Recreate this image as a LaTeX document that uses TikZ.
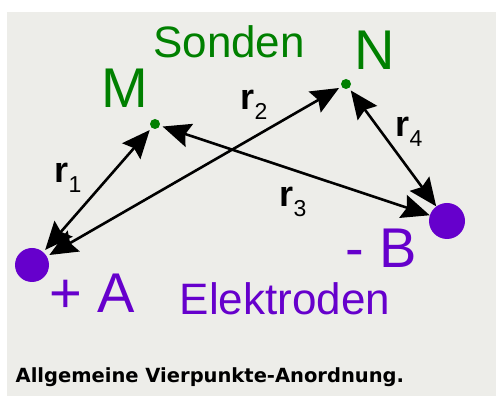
\documentclass[tikz,border=0pt]{standalone}
\usepackage{fontspec}
\setmainfont{Liberation Sans}
\newfontfamily\capfont{DejaVu Sans}
\usetikzlibrary{arrows.meta}
\definecolor{bggray}{RGB}{237,237,233}
\definecolor{elpurple}{RGB}{102,0,204}
\definecolor{sondgreen}{RGB}{0,128,0}
\tikzset{
  electrode/.style={circle, fill=elpurple, draw=none, inner sep=0pt},
  probe/.style={circle, fill=sondgreen, draw=none, inner sep=0pt, minimum size=10pt, outer sep=3pt},
  arr/.style={line width=2.6pt, {Stealth[length=28pt,width=24pt,inset=4pt]}-{Stealth[length=28pt,width=24pt,inset=4pt]}},
  big/.style={inner sep=0pt, anchor=base west, font=\fontsize{56}{56}\selectfont},
  mid/.style={inner sep=0pt, anchor=base west, font=\fontsize{44}{44}\selectfont},
  rlab/.style={inner sep=0pt, anchor=base west},
}
\newcommand{\rsub}[1]{{\fontsize{36}{36}\selectfont\bfseries r}\raisebox{-10pt}{\fontsize{23}{23}\selectfont #1}}
\begin{document}
\begin{tikzpicture}[x=1pt,y=1pt]
\useasboundingbox (0,0) rectangle (496,396);
\fill[bggray] (7,0) rectangle (496,384);
% electrodes and probes
\node[electrode, minimum size=34pt, outer sep=3pt] (A) at (32,131) {};
\node[electrode, minimum size=36pt] (B) at (447,175) {};
\node[probe] (M) at (155,272) {};
\node[probe] (N) at (346,312) {};
% connectors
\draw[arr] (A) -- (M);
\draw[arr] (A) -- (N);
\draw[arr] (M) -- (B);
\draw[arr] (N) -- (B);
% labels
\node[mid, text=sondgreen] (sonden) at (153,338) {Sonden};
\node[big, text=sondgreen] (mlab) at (101,288) {M};
\node[big, text=sondgreen] (nlab) at (354,326) {N};
\node[big, text=elpurple] (alab) at (49,83) {+ A};
\node[big, text=elpurple] (blab) at (345.5,128) {- B};
\node[mid, text=elpurple] (elek) at (179.5,81) {Elektroden};
\node[rlab] (r1) at (54.5,213) {\rsub{1}};
\node[rlab] (r2) at (240.5,286) {\rsub{2}};
\node[rlab] (r3) at (279.5,189) {\rsub{3}};
\node[rlab] (r4) at (395.5,259) {\rsub{4}};
\node[inner sep=0pt, anchor=base west, font=\capfont\bfseries\fontsize{19.5}{20}\selectfont] (cap) at (15.5,13) {Allgemeine Vierpunkte-Anordnung.};
\end{tikzpicture}
\end{document}
